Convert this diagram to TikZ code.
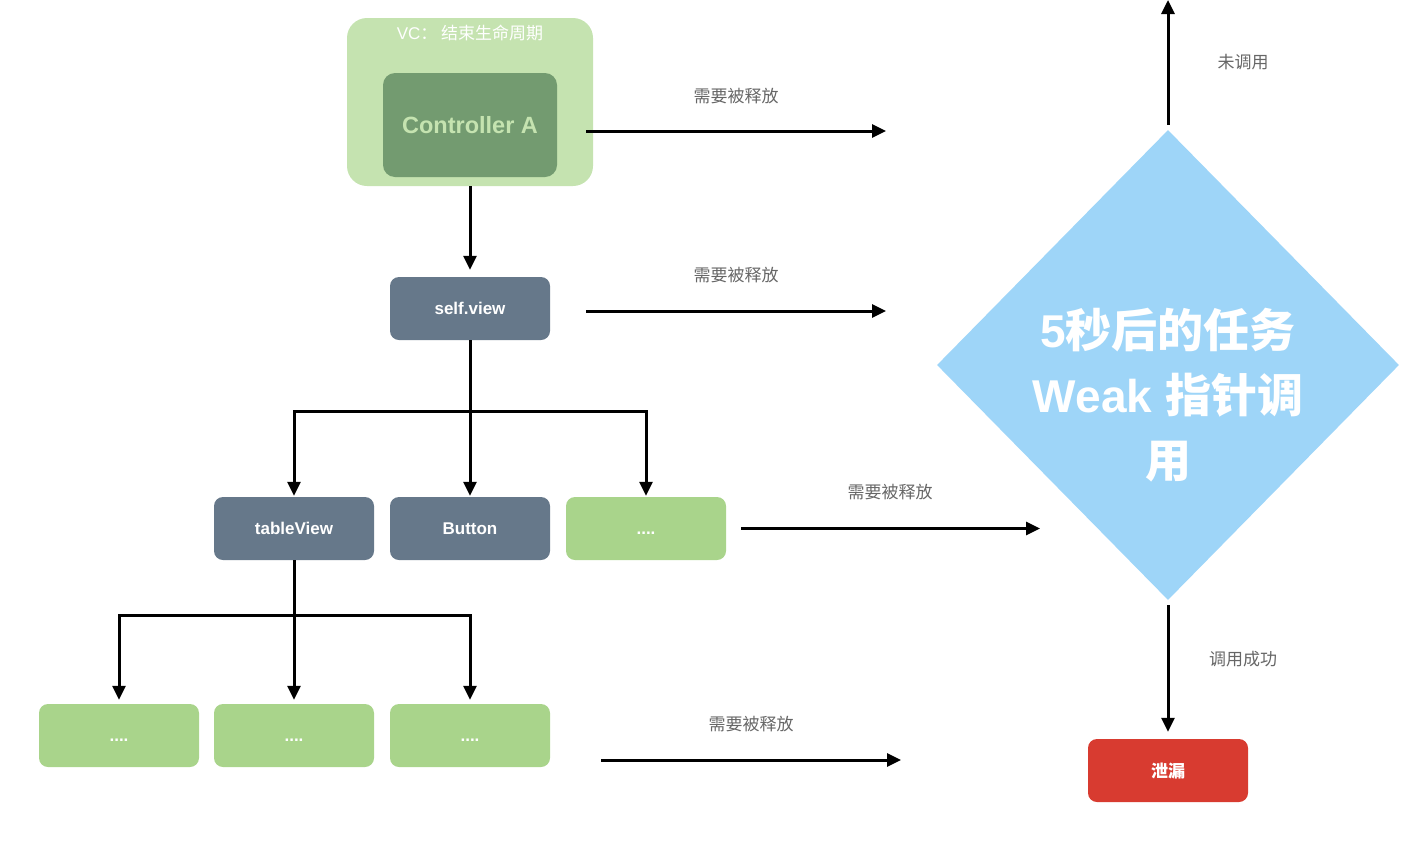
\documentclass[tikz,border=0pt]{standalone}
\usepackage{fontspec}
\setmainfont{Liberation Sans}
\newfontfamily\cjk{Noto Sans CJK SC}
\usetikzlibrary{arrows.meta,shapes.geometric}
\definecolor{vcgreen}{HTML}{C5E3B0}
\definecolor{ctrlgreen}{HTML}{739B70}
\definecolor{slate}{HTML}{66788A}
\definecolor{leafgreen}{HTML}{A9D48B}
\definecolor{sky}{HTML}{9ED5F8}
\definecolor{leakred}{HTML}{D83B30}
\definecolor{labelgray}{HTML}{666666}
\tikzset{>/.tip={Triangle[length=14pt,width=13pt]},
  box/.style={rectangle, rounded corners=9pt, minimum width=160pt, minimum height=63pt,
    inner sep=0pt, text height=12.5pt, text depth=0pt, text=white,
    font=\fontsize{17}{20}\selectfont\bfseries},
  viewbox/.style={box, fill=slate},
  leafbox/.style={box, fill=leafgreen},
  tag/.style={text=labelgray, font=\fontsize{17}{20}\selectfont\cjk},
  link/.style={line width=3pt}}

\begin{document}
\begin{tikzpicture}[x=1pt, y=-1pt]
\useasboundingbox (0,0) rectangle (1422,844);
\node[rectangle, rounded corners=20pt, fill=vcgreen, minimum width=246pt, minimum height=168pt] (vc) at (470,102) {};
\node[text=white, font=\fontsize{17}{20}\selectfont] (vctitle) at (470,33) {VC{\cjk ： 结束生命周期}};
\node[rectangle, rounded corners=12pt, fill=ctrlgreen, minimum width=174pt, minimum height=104pt,
  text=vcgreen, font=\fontsize{23.5}{28}\selectfont\bfseries] (ctrl) at (470,125) {Controller A};
\node[viewbox] (sv)  at (470,308.5) {self.view};
\node[viewbox] (tv)  at (294,528.5) {tableView};
\node[viewbox] (btn) at (470,528.5) {Button};
\node[leafbox] (more) at (646,528.5) {....};
\node[leafbox] (leafa) at (119,735.5) {....};
\node[leafbox] (leafb) at (294,735.5) {....};
\node[leafbox] (leafc) at (470,735.5) {....};
\node[box, fill=leakred, text height=14pt, text depth=1pt, font=\fontsize{17}{20}\selectfont\bfseries\cjk] (leak) at (1168,770.5) {泄漏};
\node[diamond, fill=sky, minimum width=462pt, minimum height=470pt, inner sep=0pt] (task) at (1168,365) {};
\node[align=center, text=white, font=\fontsize{46}{65}\selectfont\bfseries] (tasktext) at (1168,395)
  {5{\cjk 秒后的任务}\\Weak {\cjk 指针调}\\{\cjk 用}};
\coordinate (r1) at (886,131);
\coordinate (r2) at (886,311);
\coordinate (r3) at (1040,528.5);
\coordinate (r4) at (901,760);
\coordinate (up) at (1168,0);
\coordinate (j1) at (470,411);
\coordinate (j2) at (294,615);
\node[tag] (t1) at (736,96) {需要被释放};
\node[tag] (t2) at (736,275) {需要被释放};
\node[tag] (t3) at (890,492) {需要被释放};
\node[tag] (t4) at (751,724) {需要被释放};
\node[tag] (t5) at (1243,62) {未调用};
\node[tag] (t6) at (1243,659) {调用成功};
\draw[link, ->] ([shift={(-7pt,-29pt)}]vc.east) -- (r1);
\draw[link, ->] ([xshift=36pt, yshift=-2.5pt]sv.east) -- (r2);
\draw[link, ->] ([xshift=15pt]more.east) -- (r3);
\draw[link, ->] ([xshift=51pt, yshift=-24.5pt]leafc.east) -- (r4);
\draw[link, ->, shorten >=7pt] (vc) -- (sv);
\draw[link] (sv) -- (j1);
\foreach \n in {tv,btn,more}
{
  \draw[link, ->, shorten >=1pt] (j1) -| (\n);
}
\draw[link] (tv) -- (j2);
\foreach \n in {leafa,leafb,leafc}
{
  \draw[link, ->, shorten >=4pt] (j2) -| (\n);
}
\draw[link, ->] ([yshift=5pt]task.north) -- (up);
\draw[link, ->, shorten >=7pt] ([yshift=-5pt]task.south) -- (leak);
\end{tikzpicture}
\end{document}
